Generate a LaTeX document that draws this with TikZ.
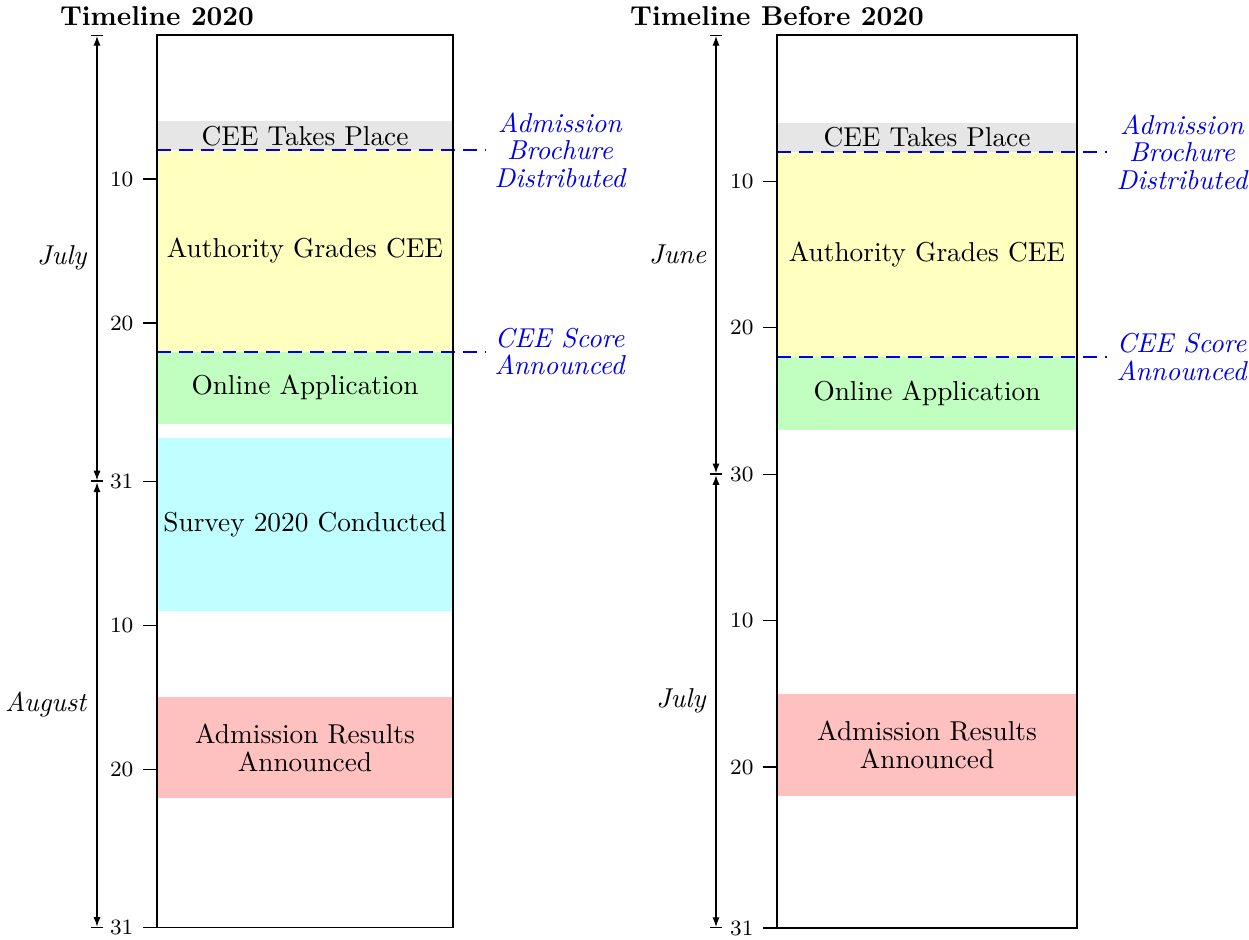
\documentclass[tikz,border=0pt]{standalone}
\usepackage{amsmath}
\usepackage{amssymb}
\usetikzlibrary{arrows.meta}

\definecolor{msblue}{RGB}{0,0,230}
\definecolor{ceegray}{RGB}{230,230,230}
\definecolor{gradeyellow}{RGB}{255,255,192}
\definecolor{applygreen}{RGB}{192,255,192}
\definecolor{surveycyan}{RGB}{192,255,255}
\definecolor{resultred}{RGB}{255,192,192}

\tikzset{
  milestone/.style={draw=msblue, line width=0.6pt, dash pattern=on 5pt off 3pt},
  mslabel/.style={right, text=msblue, font=\itshape, align=center},
  daytick/.style={font=\footnotesize},
  monthspan/.style={|<->|},
}

\begin{document}
\begin{tikzpicture}[x=0.366pt, y=-0.366pt, >={Latex[length=3.5pt,width=2.6pt]}]
        \useasboundingbox (0,0) rectangle (1249,940);
        % timeline 2020
        \begin{scope}[shift={(0pt,-12.81pt)}, y=-5.27pt]
        \fill[ceegray] (157,6) rectangle (453,8);
        \fill[gradeyellow] (157,8) rectangle (453,22);
        \fill[applygreen] (157,22) rectangle (453,27);
        \fill[surveycyan] (157,28) rectangle (453,40);
        \fill[resultred] (157,46) rectangle (453,53);
        \draw[milestone] (157,8) -- (485,8) coordinate (brochureL);
        \draw[milestone] (157,22) -- (485,22) coordinate (scoreL);
        \draw (157,0) rectangle (453,62);
        \node (ceeL) at (305,7) {CEE Takes Place};
        \node (gradeL) at (305,15) {Authority Grades CEE};
        \node (applyL) at (305,24.5) {Online Application};
        \node (surveyL) at (305,34) {Survey 2020 Conducted};
        \node[align=center] (resultL) at (305,49.5) {Admission Results\\[-2pt]Announced};
        \node[mslabel] (brochureTextL) at (brochureL) {Admission\\[-2pt]Brochure\\[-2pt]Distributed};
        \node[mslabel] (scoreTextL) at (scoreL) {CEE Score\\[-2pt]Announced};
        \node[above, font=\bfseries] (titleL) at (157,0) {Timeline 2020};
        \foreach \d/\lab in {10/10, 20/20, 31/31, 41/10, 51/20, 62/31}
            \draw (143,\d) -- (157,\d) node[pos=0, left, daytick] (tickL\d) {\lab};
        \draw[monthspan] (97,0) -- (97,31) node[midway, left] (julyL) {\textit{July}};
        \draw[monthspan] (97,31) -- (97,62) node[midway, left] (augL) {\textit{August}};
        \end{scope}
        % timeline before 2020
        \begin{scope}[shift={(0pt,-12.81pt)}, y=-5.358pt]
        \fill[ceegray] (777,6) rectangle (1077,8);
        \fill[gradeyellow] (777,8) rectangle (1077,22);
        \fill[applygreen] (777,22) rectangle (1077,27);
        \fill[resultred] (777,45) rectangle (1077,52);
        \draw[milestone] (777,8) -- (1107,8) coordinate (brochureR);
        \draw[milestone] (777,22) -- (1107,22) coordinate (scoreR);
        \draw (777,0) rectangle (1077,61);
        \node (ceeR) at (927,7) {CEE Takes Place};
        \node (gradeR) at (927,15) {Authority Grades CEE};
        \node (applyR) at (927,24.5) {Online Application};
        \node[align=center] (resultR) at (927,48.5) {Admission Results\\[-2pt]Announced};
        \node[mslabel] (brochureTextR) at (brochureR) {Admission\\[-2pt]Brochure\\[-2pt]Distributed};
        \node[mslabel] (scoreTextR) at (scoreR) {CEE Score\\[-2pt]Announced};
        \node[above, font=\bfseries] (titleR) at (777,0) {Timeline Before 2020};
        \foreach \d/\lab in {10/10, 20/20, 30/30, 40/10, 50/20, 61/31}
            \draw (763,\d) -- (777,\d) node[pos=0, left, daytick] (tickR\d) {\lab};
        \draw[monthspan] (716,0) -- (716,30) node[midway, left] (juneR) {\textit{June}};
        \draw[monthspan] (716,30) -- (716,61) node[midway, left] (julyR) {\textit{July}};
        \end{scope}
    \end{tikzpicture}
\end{document}
